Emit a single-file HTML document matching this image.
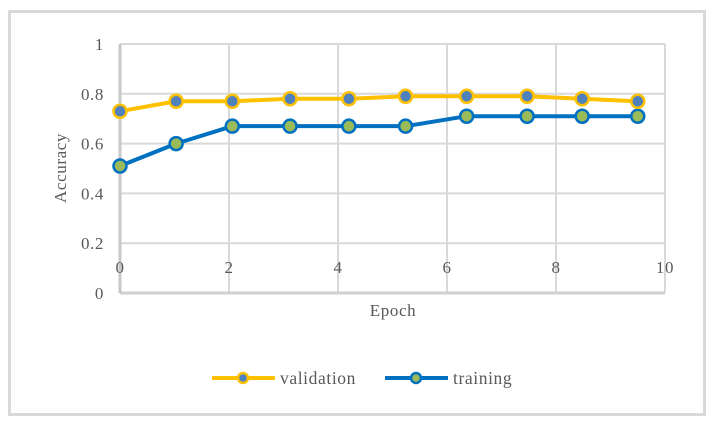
<!DOCTYPE html>
<html><head><meta charset="utf-8"><style>
html,body{margin:0;padding:0;background:#fff;}
svg text{font-family:"Liberation Serif",serif;fill:#595959;letter-spacing:0.6px;}
</style></head><body>
<svg width="715" height="421" viewBox="0 0 715 421" xmlns="http://www.w3.org/2000/svg">
<rect x="9.5" y="11.5" width="695" height="403" fill="#fff" stroke="#d9d9d9" stroke-width="3"/>
<g id="grid"></g>
<g id="axes"></g>
<g id="series"></g>
<text transform="translate(66,168) rotate(-90)" text-anchor="middle" font-size="17">Accuracy</text>
<text x="393" y="316" text-anchor="middle" font-size="17">Epoch</text>
<g>
 <g>
  <line x1="212" y1="378" x2="275" y2="378" stroke="#ffc000" stroke-width="4"/>
  <circle cx="243" cy="378" r="5" fill="#4f81bd" stroke="#ffc000" stroke-width="2.5"/>
  <text x="280" y="384" font-size="17.5">validation</text>
 </g>
 <g>
  <line x1="385" y1="378" x2="448" y2="378" stroke="#0070c0" stroke-width="4"/>
  <circle cx="416" cy="378" r="5" fill="#9bbb59" stroke="#0070c0" stroke-width="2.5"/>
  <text x="453" y="384" font-size="17.5">training</text>
 </g>
</g>
</svg>
<script>
const xTicks=[0,2,4,6,8,10];
const yTicks=[0,0.2,0.4,0.6,0.8,1];
const yTickLabels=["0","0.2","0.4","0.6","0.8","1"];
const epochs=[0,1.03,2.06,3.12,4.2,5.24,6.36,7.47,8.48,9.5];
const validation=[0.73,0.77,0.77,0.78,0.78,0.79,0.79,0.79,0.78,0.77];
const training=[0.51,0.60,0.67,0.67,0.67,0.67,0.71,0.71,0.71,0.71];
const NS="http://www.w3.org/2000/svg";
const X0=120,X1=665,Y0=293,Y1=44;
const xs=v=>X0+(v-0)/(10-0)*(X1-X0);
const ys=v=>Y0-(v-0)/(1-0)*(Y0-Y1);
function mk(t,a,p){const e=document.createElementNS(NS,t);for(const k in a)e.setAttribute(k,a[k]);p.appendChild(e);return e;}
const grid=document.getElementById('grid'),axes=document.getElementById('axes'),ser=document.getElementById('series');
yTicks.forEach((v,i)=>{
 const l=mk('line',{x1:X0,x2:X1,y1:ys(v),y2:ys(v),stroke:'#d9d9d9','stroke-width':2},grid);
 
 
 const t=mk('text',{x:104,y:ys(v)+6,'text-anchor':'end','font-size':17},axes);
 t.textContent=yTickLabels[i];
 
 
});
xTicks.forEach(v=>{
 const l=mk('line',{x1:xs(v),x2:xs(v),y1:Y1,y2:Y0,stroke:'#d9d9d9','stroke-width':2},grid);
 
 
 const t=mk('text',{x:xs(v),y:273,'text-anchor':'middle','font-size':17},axes);
 t.textContent=String(v);
 
 
});
const ax=mk('line',{x1:X0,x2:X1,y1:Y0,y2:Y0,stroke:'#d0d0d0','stroke-width':3},grid);


const ay=mk('line',{x1:X0,x2:X0,y1:Y1,y2:Y0,stroke:'#c8c8c8','stroke-width':3},grid);


function draw(vals,line,fill,name){
 const g=mk('g',{},ser);
 
 
 const pts=vals.map((v,i)=>xs(epochs[i])+','+ys(v)).join(' ');
 const pl=mk('polyline',{points:pts,fill:'none',stroke:line,'stroke-width':4,'stroke-linejoin':'round'},g);
 
 
 vals.forEach((v,i)=>{
  const c=mk('circle',{cx:xs(epochs[i]),cy:ys(v),r:6.5,fill:fill,stroke:line,'stroke-width':2.5},g);
  
  
 });
}
draw(training,'#0070c0','#9bbb59','training');
draw(validation,'#ffc000','#4f81bd','validation');
</script>
</body></html>
